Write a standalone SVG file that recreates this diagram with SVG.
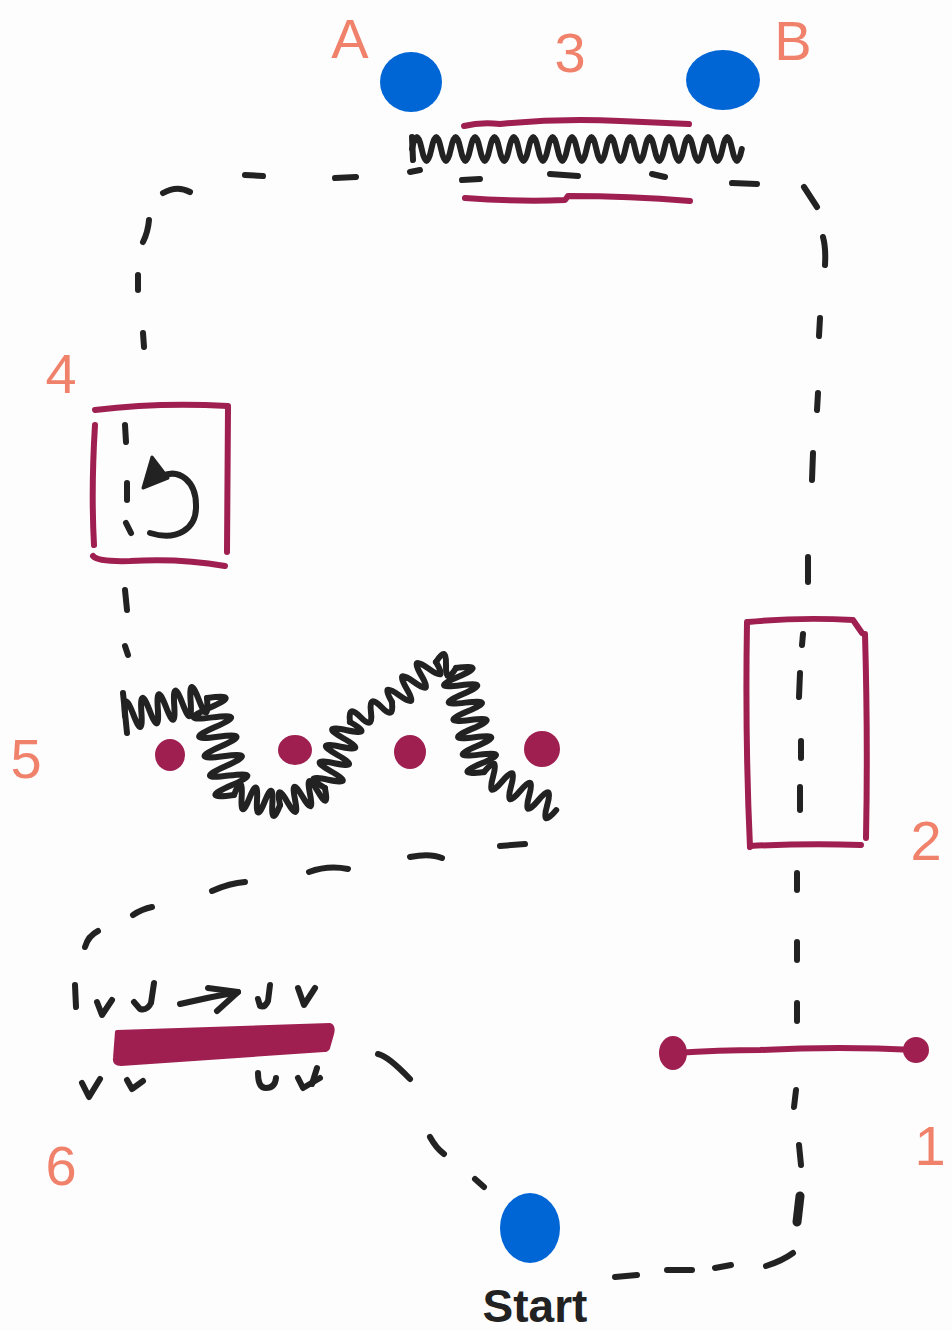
<svg xmlns="http://www.w3.org/2000/svg" width="952" height="1331" viewBox="0 0 952 1331">
<style>
.ink{fill:none;stroke:#222;stroke-width:6;stroke-linecap:round;stroke-linejoin:round}
.crim{fill:none;stroke:#9e1f50;stroke-width:6;stroke-linecap:round;stroke-linejoin:round}
.dot{fill:#9e1f50}
.blue{fill:#0066d6}
.lbl{font-family:"Liberation Sans",Arial,sans-serif;font-size:56px;fill:#f0826c;text-anchor:middle}
.start{font-family:"Liberation Sans",Arial,sans-serif;font-size:46px;font-weight:bold;fill:#222;text-anchor:middle}
</style>
<rect width="952" height="1331" fill="#fdfdfd"/>

<g id="connectors" class="ink">
  <!-- bottom from start -->
  <path d="M615,1277 L637,1275"/>
  <path d="M667,1270 L692,1270"/>
  <path d="M715,1268 L731,1265"/>
  <path d="M766,1266 Q782,1261 793,1253"/>
  <path d="M800,1196 L797,1222" stroke-width="9"/>
  <path d="M799,1145 L801,1165"/>
  <path d="M796,1090 L794,1107"/>
  <path d="M797,1003 L797,1021"/>
  <path d="M797,942 L797,960"/>
  <path d="M797,873 L797,890"/>
  <!-- inside rect 2 -->
  <path d="M803,634 L802,645"/>
  <path d="M800,673 L799,697"/>
  <path d="M801,741 L801,758"/>
  <path d="M800,787 L800,810"/>
  <!-- right vertical -->
  <path d="M808,557 L808,582"/>
  <path d="M813,453 L812,480"/>
  <path d="M818,393 L817,410"/>
  <path d="M820,318 L819,336"/>
  <path d="M823,237 Q826,248 825,265"/>
  <path d="M804,187 L817,207"/>
  <!-- top row -->
  <path d="M732,183 L757,184"/>
  <path d="M652,174 L665,177"/>
  <path d="M550,174 L578,176"/>
  <path d="M462,180 L480,179"/>
  <path d="M410,172 L420,170"/>
  <path d="M335,178 L356,177"/>
  <path d="M245,175 L263,176"/>
  <path d="M163,193 Q177,185 190,192"/>
  <!-- left vertical -->
  <path d="M149,220 Q148,232 143,242"/>
  <path d="M138,275 L138,290"/>
  <path d="M143,333 L144,347"/>
  <path d="M125,425 L126,442"/>
  <path d="M127,483 L127,500"/>
  <path d="M126,523 L131,533"/>
  <path d="M125,590 L127,610"/>
  <path d="M125,646 L128,655"/>
  <!-- lower left curve -->
  <path d="M500,846 L525,844"/>
  <path d="M410,857 Q430,853 442,858"/>
  <path d="M309,872 Q328,865 348,869"/>
  <path d="M212,891 Q230,883 245,882"/>
  <path d="M133,915 Q142,909 152,907"/>
  <path d="M85,947 Q88,936 98,931"/>
  <!-- diagonal to start -->
  <path d="M378,1054 Q388,1056 410,1079"/>
  <path d="M430,1137 Q436,1148 444,1154"/>
  <path d="M475,1179 L484,1187"/>
</g>

<g id="node-A">
  <ellipse class="blue" cx="411" cy="82" rx="31" ry="30"/>
  <text class="lbl" x="350" y="58">A</text>
</g>
<g id="node-B">
  <ellipse class="blue" cx="723" cy="80" rx="37" ry="30"/>
  <text class="lbl" x="793" y="60">B</text>
</g>
<g id="node-start">
  <ellipse class="blue" cx="530" cy="1228" rx="30" ry="35"/>
  <text class="start" x="535" y="1322">Start</text>
</g>

<g id="node-3">
  <text class="lbl" x="570" y="72">3</text>
  <path class="crim" d="M464,126 Q480,122 500,124 Q560,118 620,121 L689,124"/>
  <path class="crim" d="M465,198 Q520,202 565,200 L568,196 Q630,196 690,201"/>
  <path class="ink" d="M412,137 L413,160"/>
  <path class="ink" transform="translate(412,149)" d="M0,0 q4.85,-24 9.7,0 t9.7,0 t9.7,0 t9.7,0 t9.7,0 t9.7,0 t9.7,0 t9.7,0 t9.7,0 t9.7,0 t9.7,0 t9.7,0 t9.7,0 t9.7,0 t9.7,0 t9.7,0 t9.7,0 t9.7,0 t9.7,0 t9.7,0 t9.7,0 t9.7,0 t9.7,0 t9.7,0 t9.7,0 t9.7,0 t9.7,0 t9.7,0 t9.7,0 t9.7,0 t9.7,0 t9.7,0 t9.7,0 t9.7,0"/>
</g>

<g id="node-4">
  <text class="lbl" x="61" y="393">4</text>
  <path class="crim" d="M95,410 Q160,402 228,406"/>
  <path class="crim" d="M95,425 Q91,490 94,545"/>
  <path class="crim" d="M228,408 L227,552"/>
  <path class="crim" d="M93,556 Q98,562 130,561 Q180,558 225,566"/>
  <path class="ink" d="M150,533 C176,541 197,530 196,505 C196,482 180,468 162,476"/>
  <polygon points="152,457 143,488 168,478" fill="#222" stroke="#222" stroke-width="3" stroke-linejoin="round"/>
</g>

<g id="node-5">
  <text class="lbl" x="26" y="778">5</text>
  <ellipse class="dot" cx="170" cy="755" rx="15" ry="16"/>
  <ellipse class="dot" cx="295" cy="750" rx="17" ry="15"/>
  <ellipse class="dot" cx="410" cy="752" rx="16" ry="17"/>
  <ellipse class="dot" cx="542" cy="749" rx="18" ry="18"/>
  <path class="ink" d="M123,693 L127,733"/>
  <path class="ink" transform="translate(125,716) rotate(-12.4)" d="M0,0 q4.2,-28 8.4,0 t8.4,0 t8.4,0 t8.4,0 t8.4,0 t8.4,0 t8.4,0 t8.4,0 t8.4,0 t8.4,0"/>
  <path class="ink" transform="translate(207,698) rotate(74.4)" d="M0,0 q5.03,-36 10.07,0 t10.07,0 t10.07,0 t10.07,0 t10.07,0 t10.07,0 t10.07,0 t10.07,0 t10.07,0 t10.07,0"/>
  <path class="ink" transform="translate(234,795) rotate(12.3)" d="M0,0 q3.92,-24 7.85,0 t7.85,0 t7.85,0 t7.85,0 t7.85,0 t7.85,0"/>
  <path class="ink" transform="translate(280,805) rotate(-20.7)" d="M0,0 q4,-24 8,0 t8,0 t8,0 t8,0 t8,0 t8,0"/>
  <path class="ink" transform="translate(325,788) rotate(-69.3)" d="M0,0 q4.41,-28 8.82,0 t8.82,0 t8.82,0 t8.82,0 t8.82,0 t8.82,0 t8.82,0 t8.82,0"/>
  <path class="ink" transform="translate(350,722) rotate(-25.5)" d="M0,0 q5.8,-18 11.6,0 t11.6,0 t11.6,0 t11.6,0"/>
  <path class="ink" transform="translate(392,702) rotate(-42.3)" d="M0,0 q4.95,-24 9.9,0 t9.9,0 t9.9,0 t9.9,0 t9.9,0 t9.9,0"/>
  <path class="ink" transform="translate(436,662) rotate(16.7)" d="M0,0 q5.22,-20 10.45,0 t10.45,0"/>
  <path class="ink" transform="translate(456,668) rotate(74.9)" d="M0,0 q4.48,-32 8.97,0 t8.97,0 t8.97,0 t8.97,0 t8.97,0 t8.97,0 t8.97,0 t8.97,0 t8.97,0 t8.97,0 t8.97,0 t8.97,0"/>
  <path class="ink" transform="translate(484,772) rotate(27.8)" d="M0,0 q5.1,-24 10.2,0 t10.2,0 t10.2,0 t10.2,0 t10.2,0 t10.2,0 t10.2,0 t10.2,0"/>
</g>

<g id="node-2">
  <text class="lbl" x="926" y="860">2</text>
  <path class="crim" d="M748,622 Q800,617 853,620 L862,633"/>
  <path class="crim" d="M747,622 Q745,740 750,847"/>
  <path class="crim" d="M865,634 Q868,740 866,838"/>
  <path class="crim" d="M750,846 Q810,843 861,845"/>
</g>

<g id="node-1">
  <text class="lbl" x="930" y="1165">1</text>
  <path class="crim" d="M674,1053 Q720,1050 760,1050 Q840,1046 916,1050"/>
  <ellipse class="dot" cx="673" cy="1053" rx="14" ry="17"/>
  <ellipse class="dot" cx="916" cy="1050" rx="13" ry="13"/>
</g>

<g id="node-6">
  <text class="lbl" x="61" y="1185">6</text>
  <path d="M117,1032 L330,1025 Q334,1027 332,1034 L328,1048 Q327,1050 324,1050 L121,1064 Q114,1064 115,1058 Z" fill="#9e1f50" stroke="#9e1f50" stroke-width="4" stroke-linejoin="round"/>
  <path class="ink" d="M75,985 L76,1007"/>
  <path class="ink" d="M97,1002 L102,1015 L112,1000"/>
  <path class="ink" d="M154,983 L151,1003 Q147,1011 140,1009 L134,1002"/>
  <path class="ink" d="M180,1004 Q210,997 238,992"/>
  <path class="ink" d="M208,988 L238,992 L217,1011"/>
  <path class="ink" d="M270,985 L268,1001 Q265,1008 260,1006 L258,999"/>
  <path class="ink" d="M298,988 L304,1005 L315,988"/>
  <path class="ink" d="M82,1083 L89,1097 L100,1079"/>
  <path class="ink" d="M127,1080 L132,1089 L143,1081"/>
  <path class="ink" d="M258,1073 Q258,1088 266,1088 Q275,1088 276,1078"/>
  <path class="ink" d="M298,1078 L303,1088 L320,1078"/>
  <path class="ink" d="M317,1068 L312,1084"/>
</g>
</svg>
